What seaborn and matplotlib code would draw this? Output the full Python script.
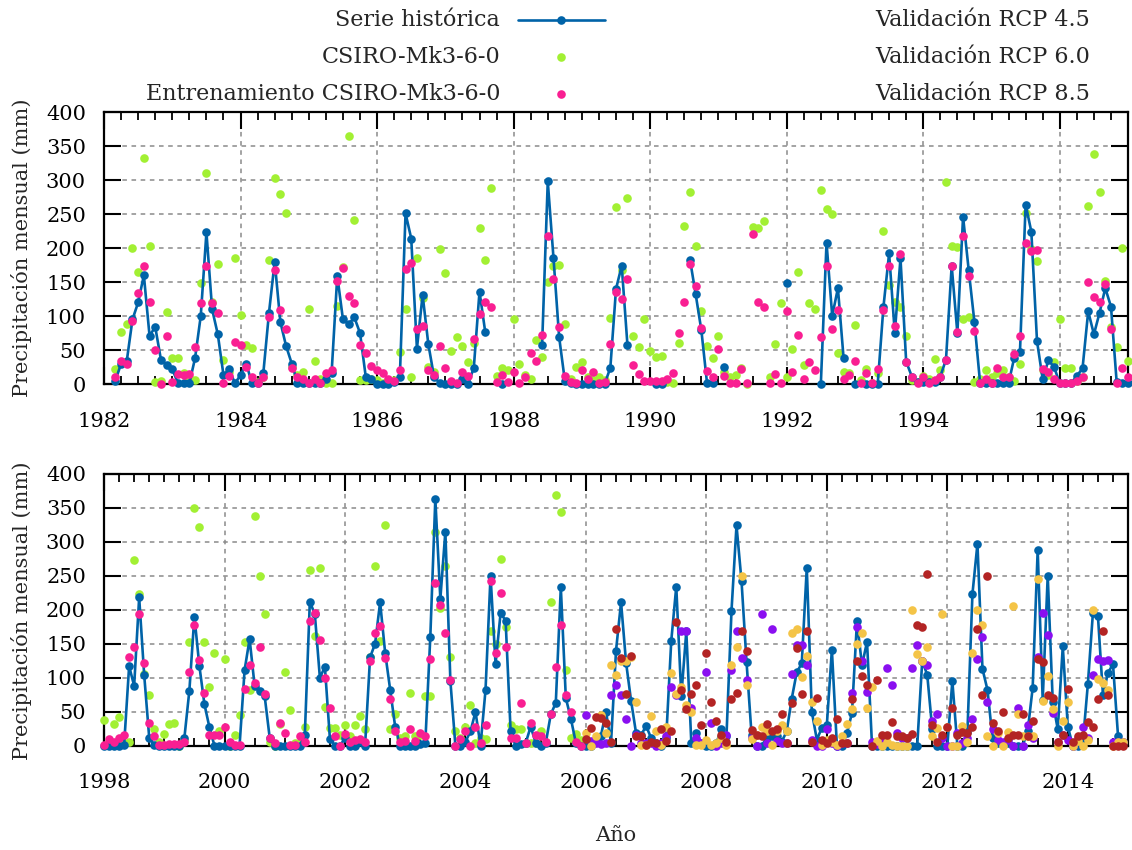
import numpy as np
import pandas as pd
import matplotlib
matplotlib.use("Agg")
import matplotlib.pyplot as plt
from matplotlib.lines import Line2D
import seaborn as sns

nan = np.nan

# ---------------------------------------------------------------------------
# Monthly precipitation (mm)
# Panel 1: March 1982 - January 1997 (month offset 2 from Jan 1982)
# ---------------------------------------------------------------------------
P1_YEAR, P1_OFFSET = 1982, 2

hist_a = [
    5, 30, 34, 95, 120, 160, 71, 84, 36, 28,
    22, 1, 1, 1, 38, 100, 223, 110, 73, 13,
    22, 1, 13, 30, 1, 1, 16, 105, 180, 91,
    56, 30, 2, 2, 1, 1, 1, 8, 16, 159,
    95, 88, 98, 75, 11, 8, 0, 0, 0, 3,
    11, 251, 214, 52, 131, 59, 11, 1, 0, 0,
    0, 8, 0, 24, 136, 77, nan, nan, 0, nan,
    nan, nan, nan, nan, nan, 57, 298, 186, 69, 5,
    1, 0, 0, 0, 0, 0, 0, 24, 140, 174,
    58, nan, nan, nan, nan, 0, 0, nan, nan, nan,
    nan, 183, 132, 79, 1, 1, nan, 25, nan, nan,
    nan, nan, nan, nan, nan, nan, nan, nan, 148, nan,
    nan, nan, nan, nan, 0, 208, 100, 141, 38, nan,
    0, nan, 0, 0, 0, 113, 192, 75, 185, 33,
    11, 3, 3, 3, 3, 11, 36, 174, 75, 246,
    167, 91, 1, 1, 1, 1, 1, 1, 39, 47,
    264, 224, 63, 7, 35, 25, 1, 1, 1, 12,
    23, 107, 73, 105, 141, 114, 3, 1, 1,
]

csiro_a = [
    22, 77, 88, 200, 165, 333, 203, 3, 5, 106,
    38, 38, 16, 11, 6, 148, 311, 120, 176, 35,
    18, 186, 102, 58, 53, 3, 11, 182, 303, 279,
    251, 25, 13, 17, 110, 34, 8, 1, 1, 115,
    172, 365, 241, 6, 6, 8, 6, 1, 6, 6,
    47, 110, 10, 186, 127, 25, 17, 198, 164, 48,
    69, 56, 33, 60, 230, 182, 289, 12, 23, 20,
    95, 29, 14, 8, 65, 40, 150, 173, 175, 89,
    7, 25, 32, 11, 6, 11, 6, 97, 261, 168,
    273, 70, 54, 95, 49, 40, 41, 3, 1, 61,
    233, 283, 203, 107, 56, 39, 70, 17, 11, 14,
    23, 0, 231, 230, 240, 10, 59, 119, 11, 51,
    165, 28, 119, 110, 285, 257, 250, 45, 18, 16,
    87, 6, 22, 1, 16, 225, 145, 121, 114, 71,
    6, 3, 12, 8, 37, 20, 297, 203, 202, 95,
    98, 3, 7, 21, 11, 16, 21, 11, 5, 29,
    252, 198, 181, 20, 13, 33, 96, 24, 24, 5,
    11, 262, 338, 283, 152, 84, 54, 200, 34,
]

train_a = [
    11, 34, 29, 93, 134, 173, 121, 50, 0, 70,
    3, 15, 14, 15, 55, 119, 173, 119, 105, 1,
    12, 62, 57, 25, 11, 1, 11, 98, 168, 109,
    81, 23, 11, 8, 1, 8, 1, 16, 21, 152,
    170, 129, 119, 58, 46, 26, 21, 16, 7, 5,
    21, 169, 178, 81, 85, 21, 13, 56, 23, 5,
    1, 18, 12, 66, 103, 120, 114, 3, 14, 3,
    17, 1, 11, 46, 34, 72, 217, 154, 84, 12,
    3, 1, 20, 8, 17, 1, 3, 59, 136, 125,
    155, 28, 15, 5, 5, 5, 5, 7, 16, 75,
    121, 176, 144, 82, 19, 11, 51, 12, 1, 1,
    22, 1, 221, 120, 114, 1, 15, 1, 107, 17,
    72, 8, 32, 20, 69, 174, 81, 109, 8, 14,
    34, 1, 16, 1, 22, 109, 174, 85, 191, 33,
    11, 1, 11, 1, 6, 11, 35, 174, 77, 218,
    159, 78, 1, 7, 1, 24, 11, 11, 44, 71,
    207, 195, 197, 22, 18, 8, 1, 1, 1, 5,
    11, 150, 128, 120, 147, 81, 1, 23, 11,
]

# ---------------------------------------------------------------------------
# Panel 2: January 1998 - December 2014
# ---------------------------------------------------------------------------
P2_YEAR = 1998

hist_b = [
    0, 0, 0, 0, 1, 117, 88, 218, 104, 12,
    1, 0, 0, 0, 0, 0, 11, 81, 190, 117,
    61, 27, 0, 0, 0, 0, 0, 0, 111, 157,
    88, 80, 73, 12, 0, 0, 0, 0, 0, 0,
    16, 212, 193, 100, 116, 10, 0, 0, 11, 0,
    0, 6, 0, 130, 150, 211, 137, 82, 28, 0,
    0, 0, 0, 2, 4, 160, 363, 216, 315, 95,
    0, 0, 6, 21, 50, 0, 82, 250, 120, 195,
    184, 21, 0, 2, 4, 28, 4, 0, 4, 46,
    63, 233, 70, 40, 4, 0, 0, 0, 10, 15,
    50, 4, 140, 211, 122, 66, 18, 16, 29, 11,
    4, 0, 12, 154, 234, 73, 168, 4, 18, 4,
    0, 0, 4, 25, 14, 198, 324, 242, 123, 16,
    0, 0, 11, 14, 14, 6, 21, 69, 108, 121,
    262, 50, 9, 26, 31, 141, 0, 0, 18, 48,
    183, 118, 153, 0, 0, 0, 0, 0, 0, 0,
    0, 0, 0, 125, 104, 24, 0, 0, 0, 95,
    0, 0, 20, 223, 297, 113, 82, 11, 4, 2,
    4, 0, 0, 0, 21, 85, 288, 67, 250, 65,
    24, 146, 28, 0, 0, 5, 91, 195, 191, 75,
    107, 120, 15, 5,
]

# model series over the training period (Jan 1998 - Dec 2005)
csiro_b = [
    38, 6, 32, 42, 4, 6, 273, 223, 106, 74,
    25, 6, 17, 32, 34, 0, 9, 153, 349, 322,
    153, 87, 136, 21, 128, 0, 16, 45, 153, 82,
    338, 250, 193, 6, 0, 32, 108, 53, 4, 4,
    27, 258, 161, 261, 57, 26, 26, 16, 31, 14,
    30, 43, 25, 130, 265, 154, 325, 24, 46, 12,
    14, 77, 14, 16, 73, 73, 314, 202, 265, 130,
    21, 11, 28, 60, 4, 11, 10, 168, 149, 274,
    174, 31, 24, 24, 4, 4, 4, 21, 6, 212,
    369, 343, 112, 11, 17, 9,
]

train_b = [
    1, 10, 6, 12, 16, 131, 145, 194, 121, 34,
    15, 1, 1, 2, 3, 3, 6, 109, 177, 126,
    77, 16, 16, 16, 28, 6, 1, 1, 84, 119,
    92, 145, 76, 12, 4, 34, 18, 1, 1, 15,
    6, 184, 195, 156, 100, 56, 14, 0, 17, 6,
    8, 10, 6, 124, 166, 176, 129, 68, 22, 6,
    7, 24, 7, 18, 15, 128, 240, 207, 166, 96,
    0, 10, 21, 0, 27, 4, 31, 242, 137, 225,
    145, 11, 11, 63, 4, 33, 16, 14, 6, 46,
    116, 177, 74, 50, 5, 0,
]

# validation period (Jan 2006 - Dec 2014), month offset 96 from Jan 1998
VAL_OFFSET = 96

rcp45 = [
    45, 7, 4, 3, 4, 75, 90, 74, 40, 0,
    16, 4, 4, 4, 0, 4, 14, 86, 75, 168,
    168, 56, 11, 4, 108, 33, 0, 4, 16, 112,
    169, 129, 96, 11, 0, 193, 4, 172, 7, 4,
    4, 105, 148, 148, 118, 9, 0, 0, 24, 4,
    0, 4, 4, 77, 175, 125, 79, 5, 3, 10,
    114, 89, 19, 11, 11, 114, 148, 125, 119, 37,
    47, 11, 0, 0, 19, 4, 11, 40, 127, 160,
    65, 24, 9, 6, 9, 0, 56, 0, 31, 11,
    131, 195, 163, 48, 6, 16, 9, 0, 11, 28,
    12, 104, 128, 124, 126, 5, 6, 6,
]

rcp60 = [
    18, 0, 14, 45, 18, 118, 104, 125, 124, 130,
    65, 1, 1, 43, 21, 1, 28, 107, 76, 87,
    60, 50, 1, 1, 9, 1, 4, 12, 1, 118,
    145, 250, 89, 10, 16, 27, 22, 1, 21, 31,
    21, 166, 171, 101, 132, 65, 36, 1, 9, 6,
    1, 14, 32, 54, 150, 166, 56, 86, 7, 0,
    6, 1, 0, 0, 0, 199, 135, 125, 145, 14,
    26, 193, 27, 0, 0, 29, 6, 136, 199, 177,
    14, 0, 18, 0, 20, 206, 47, 14, 14, 15,
    245, 66, 103, 54, 0, 37, 65, 0, 7, 0,
    9, 199, 98, 92, 82, 0, 6, 6,
]

rcp85 = [
    10, 26, 42, 41, 33, 5, 171, 129, 76, 132,
    14, 14, 1, 6, 4, 24, 7, 21, 182, 82,
    54, 76, 90, 31, 136, 65, 36, 16, 6, 69,
    78, 168, 140, 23, 16, 14, 32, 21, 24, 46,
    4, 63, 144, 76, 168, 6, 70, 9, 4, 11,
    39, 4, 4, 69, 124, 102, 90, 0, 96, 16,
    16, 35, 15, 15, 11, 17, 177, 175, 252, 30,
    6, 16, 28, 55, 16, 20, 19, 28, 171, 75,
    250, 33, 21, 50, 12, 16, 16, 46, 14, 36,
    128, 123, 75, 70, 5, 16, 84, 5, 15, 16,
    35, 27, 68, 169, 75, 0, 0, 0,
]

legend_left = ["Serie histórica", "CSIRO-Mk3-6-0", "Entrenamiento CSIRO-Mk3-6-0"]
legend_right = ["Validación RCP 4.5", "Validación RCP 6.0", "Validación RCP 8.5"]
y_ticks = list(range(0, 401, 50))
x_ticks_a = list(range(1982, 1997, 2))
x_ticks_b = list(range(1998, 2015, 2))

BLUE = "#0063a8"
GREEN = "#a2f033"
PINK = "#f91f92"
PURPLE = "#8a0ff0"
GOLD = "#f4c447"
DARKRED = "#b32424"


def monthly(year0, offset, values):
    vals = np.asarray(values, dtype=float)
    t = year0 + (offset + np.arange(len(vals))) / 12.0
    df = pd.DataFrame({"t": t, "v": vals})
    # consecutive runs of valid months share a segment id (gaps break the line)
    df["seg"] = np.cumsum(np.isnan(vals))
    return df


sns.set_style("ticks")
plt.rcParams["font.family"] = ["DejaVu Serif"]
plt.rcParams["font.size"] = 15

fig = plt.figure(figsize=(11.32, 8.5), dpi=100)
ax1 = fig.add_axes([0.0919, 0.5482, 0.9046, 0.32])
ax2 = fig.add_axes([0.0919, 0.1227, 0.9046, 0.32])

MS = 6.2      # marker diameter (points)
S = MS ** 2   # scatter area


def scatter(ax, df, color, z):
    sns.scatterplot(data=df.dropna(subset=["v"]), x="t", y="v", color=color,
                    s=S, linewidth=0, ax=ax, legend=False, zorder=z,
                    clip_on=False)


def history(ax, df):
    sns.lineplot(data=df.dropna(subset=["v"]), x="t", y="v", units="seg",
                 estimator=None, sort=False, color=BLUE, linewidth=1.9,
                 marker="o", markersize=MS, markeredgewidth=0, ax=ax,
                 legend=False, zorder=4, clip_on=False)


# panel 1
scatter(ax1, monthly(P1_YEAR, P1_OFFSET, csiro_a), GREEN, 3)
history(ax1, monthly(P1_YEAR, P1_OFFSET, hist_a))
scatter(ax1, monthly(P1_YEAR, P1_OFFSET, train_a), PINK, 5)

# panel 2
scatter(ax2, monthly(P2_YEAR, 0, csiro_b), GREEN, 3)
history(ax2, monthly(P2_YEAR, 0, hist_b))
scatter(ax2, monthly(P2_YEAR, 0, train_b), PINK, 5)
scatter(ax2, monthly(P2_YEAR, VAL_OFFSET, rcp45), PURPLE, 6)
scatter(ax2, monthly(P2_YEAR, VAL_OFFSET, rcp60), GOLD, 7)
scatter(ax2, monthly(P2_YEAR, VAL_OFFSET, rcp85), DARKRED, 8)

for ax, (x0, x1), xt in ((ax1, (1982, 1997), x_ticks_a),
                         (ax2, (1998, 2015), x_ticks_b)):
    ax.set_xlim(x0, x1)
    ax.set_ylim(0, 400)
    ax.set_xticks(xt)
    ax.set_xticklabels([str(v) for v in xt])
    ax.set_xticks(np.arange(x0, x1 + 0.001, 0.25), minor=True)
    ax.set_yticks(y_ticks)
    ax.set_yticklabels([str(v) for v in y_ticks])
    ax.set_xlabel("")
    ax.set_ylabel("")
    ax.grid(True, which="major", color="#8a8a8a", linestyle=(0, (3, 3)),
            linewidth=1.1)
    ax.set_axisbelow(True)
    for sp in ax.spines.values():
        sp.set_visible(True)
        sp.set_color("black")
        sp.set_linewidth(1.6)
        sp.set_zorder(2.5)
    ax.tick_params(axis="both", which="major", direction="in", length=12,
                   width=1.5, color="black", top=True, right=True,
                   labelsize=15, labelcolor="black")
    ax.tick_params(axis="x", which="major", pad=20)
    ax.tick_params(axis="y", which="major", pad=13)
    ax.tick_params(axis="x", which="minor", direction="in", length=6,
                   width=1.3, color="black", top=True, bottom=True)
    ax.tick_params(axis="y", which="minor", left=False, right=False)

# axis titles
for yc in (0.708, 0.282):
    fig.text(0.0194, yc, "Precipitación mensual (mm)", rotation=90,
             ha="center", va="center", fontsize=15)
fig.text(0.544, 0.0176, "Año", ha="center", va="center", fontsize=15)

# key
rows = [0.9765, 0.9329, 0.8894]
for label, y in zip(legend_left, rows):
    fig.text(0.4417, y, label, ha="right", va="center", fontsize=16)
for label, y in zip(legend_right, rows):
    fig.text(0.963, y, label, ha="right", va="center", fontsize=16)

fig.add_artist(Line2D([0.4576, 0.5345], [rows[0], rows[0]],
                      transform=fig.transFigure, color=BLUE, linewidth=1.9))
fig.add_artist(Line2D([0.4960], [rows[0]], transform=fig.transFigure,
                      color=BLUE, marker="o", markersize=MS,
                      markeredgewidth=0, linestyle="none"))
fig.add_artist(Line2D([0.4960], [rows[1]], transform=fig.transFigure,
                      color=GREEN, marker="o", markersize=MS,
                      markeredgewidth=0, linestyle="none"))
fig.add_artist(Line2D([0.4960], [rows[2]], transform=fig.transFigure,
                      color=PINK, marker="o", markersize=MS,
                      markeredgewidth=0, linestyle="none"))

fig.savefig("out.png", dpi=100)
